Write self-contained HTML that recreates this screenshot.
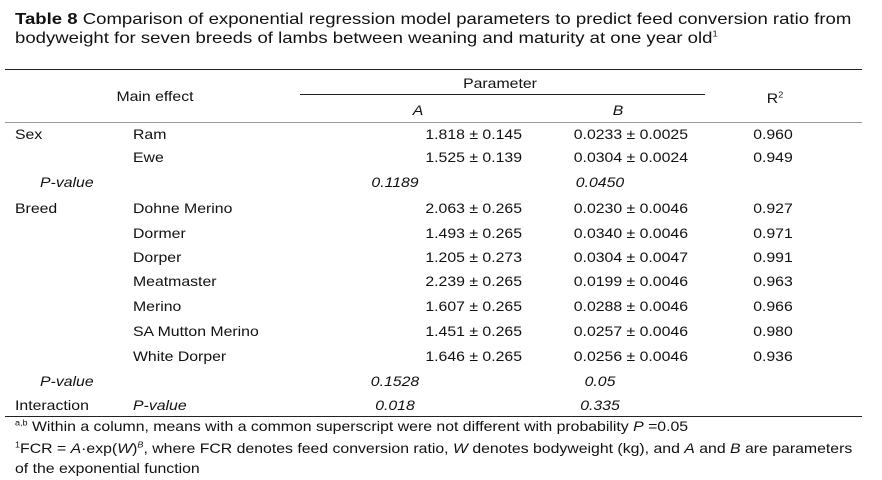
<!DOCTYPE html>
<html><head><meta charset="utf-8"><style>
body{margin:0;width:882px;height:480px;background:#fff;font-family:"Liberation Sans",Arial,sans-serif;color:#111;position:relative;overflow:hidden}
.t{position:absolute;font-size:14px;white-space:nowrap;line-height:16px;transform:scaleX(1.13);transform-origin:left center}
.r{text-align:right;transform-origin:right center}.c{text-align:center;transform-origin:center center}
i{font-style:italic}
.rule{position:absolute;background:#222}
sup{font-size:8px;line-height:0}
</style></head><body>
<div class="t" style="left:15px;top:10px;font-size:16px;line-height:19px;transform:scaleX(1.16)"><b>Table 8</b> Comparison of exponential regression model parameters to predict feed conversion ratio from<br>bodyweight for seven breeds of lambs between weaning and maturity at one year old<sup>1</sup></div>
<div class="rule" style="left:5px;top:69px;width:857px;height:1px"></div>
<div class="t c" style="left:80px;width:150px;top:88px">Main effect</div>
<div class="t c" style="left:400px;width:200px;top:75px">Parameter</div>
<div class="rule" style="left:300px;top:94px;width:405px;height:1px"></div>
<div class="t c" style="left:388px;width:60px;top:102px"><i>A</i></div>
<div class="t c" style="left:588px;width:60px;top:102px"><i>B</i></div>
<div class="t c" style="left:745px;width:60px;top:90px">R<sup>2</sup></div>
<div class="rule" style="left:5px;top:122px;width:857px;height:1px;background:#999"></div>
<div id="rows"></div>
<div class="rule" style="left:5px;top:416px;width:857px;height:1px"></div>
<div class="t" style="left:15px;top:418px"><sup>a,b</sup> Within a column, means with a common superscript were not different with probability <i>P</i> =0.05</div>
<div class="t" style="left:15px;top:438px;line-height:20px"><sup>1</sup>FCR = <i>A</i>·exp(<i>W</i>)<sup><i>B</i></sup>, where FCR denotes feed conversion ratio, <i>W</i> denotes bodyweight (kg), and <i>A</i> and <i>B</i> are parameters<br>of the exponential function</div>
<script>
const rowY=[134,157,182,208,233,257,281,306,331,356,381,405];
const groups=["Sex","","  P-value","Breed","","","","","","","  P-value","Interaction"];
const labels=["Ram","Ewe","","Dohne Merino","Dormer","Dorper","Meatmaster","Merino","SA Mutton Merino","White Dorper","","P-value"];
const colA=["1.818 ± 0.145","1.525 ± 0.139","0.1189","2.063 ± 0.265","1.493 ± 0.265","1.205 ± 0.273","2.239 ± 0.265","1.607 ± 0.265","1.451 ± 0.265","1.646 ± 0.265","0.1528","0.018"];
const colB=["0.0233 ± 0.0025","0.0304 ± 0.0024","0.0450","0.0230 ± 0.0046","0.0340 ± 0.0046","0.0304 ± 0.0047","0.0199 ± 0.0046","0.0288 ± 0.0046","0.0257 ± 0.0046","0.0256 ± 0.0046","0.05","0.335"];
const colR=["0.960","0.949","","0.927","0.971","0.991","0.963","0.966","0.980","0.936","",""];
const root=document.getElementById('rows');
function mk(txt,style,italic,name,cls){const d=document.createElement('div');d.className='t'+(cls?' '+cls:'');d.style.cssText=style;if(italic)d.style.fontStyle='italic';d.textContent=txt;


root.appendChild(d);}
rowY.forEach((y,i)=>{const top=y-8;const pv=colR[i]==="";
if(groups[i].trim()){const it=groups[i].includes('P-value');mk(groups[i].trim(),`left:${it?40:15}px;top:${top}px`,it,'group-label');}
if(labels[i]){mk(labels[i],`left:133px;top:${top}px`,labels[i]==='P-value','row-label');}
if(pv){mk(colA[i],`left:355px;width:80px;top:${top}px`,true,'a-pvalue','c');
mk(colB[i],`left:560px;width:80px;top:${top}px`,true,'b-pvalue','c');}
else{mk(colA[i],`left:380px;width:142px;top:${top}px`,false,'a-value','r');
mk(colB[i],`left:540px;width:148px;top:${top}px`,false,'b-value','r');
mk(colR[i],`left:743px;width:60px;top:${top}px`,false,'r2-value','c');}
});
</script>
</body></html>
